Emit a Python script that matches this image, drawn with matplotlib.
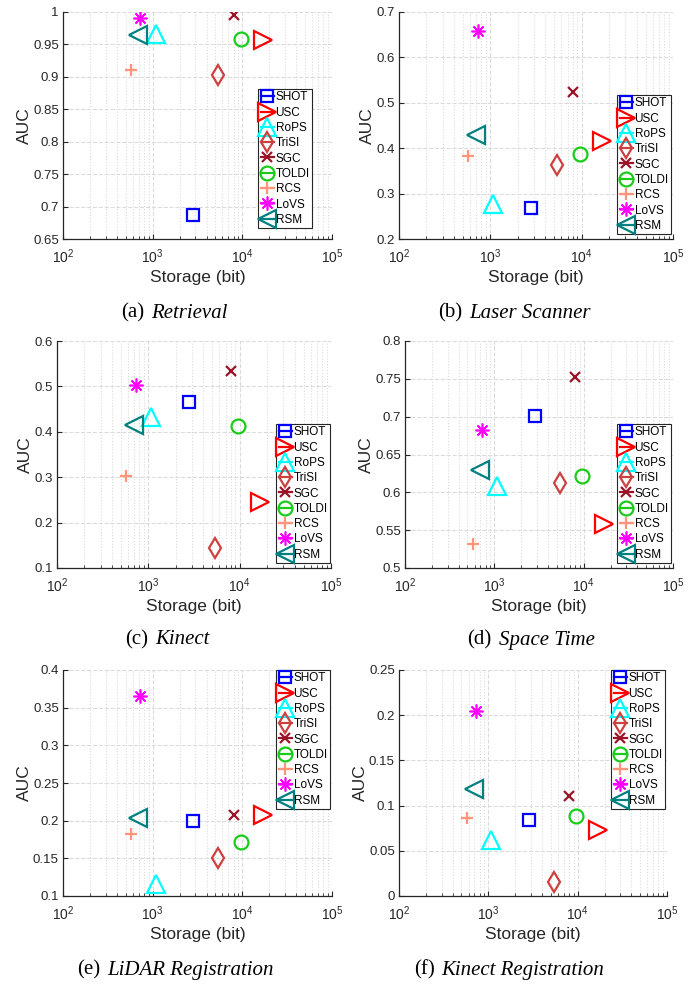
import numpy as np
import matplotlib
matplotlib.use("Agg")
import matplotlib.pyplot as plt
from matplotlib.lines import Line2D
from matplotlib.ticker import FixedLocator, FuncFormatter, LogLocator, NullFormatter

plt.rcParams['font.family'] = ['Liberation Sans', 'DejaVu Sans']
plt.rcParams['mathtext.default'] = 'regular'

# ---- data ----
methods = ['SHOT', 'USC', 'RoPS', 'TriSI', 'SGC', 'TOLDI', 'RCS', 'LoVS', 'RSM']
storage = [2816, 16800, 1080, 5400, 8000, 9600, 576, 729, 690]   # bits

auc_retrieval  = [0.687, 0.957, 0.966, 0.903, 0.995, 0.958, 0.911, 0.990, 0.964]
auc_laser      = [0.268, 0.416, 0.278, 0.363, 0.524, 0.388, 0.383, 0.659, 0.429]
auc_kinect     = [0.465, 0.245, 0.432, 0.145, 0.534, 0.412, 0.302, 0.504, 0.416]
auc_spacetime  = [0.701, 0.558, 0.608, 0.612, 0.752, 0.622, 0.532, 0.682, 0.630]
auc_lidar_reg  = [0.199, 0.208, 0.116, 0.150, 0.208, 0.172, 0.182, 0.366, 0.203]
auc_kinect_reg = [0.084, 0.073, 0.062, 0.016, 0.111, 0.089, 0.086, 0.205, 0.118]

panel_tags  = ['(a)', '(b)', '(c)', '(d)', '(e)', '(f)']
panel_names = ['Retrieval', 'Laser Scanner', 'Kinect', 'Space Time',
               'LiDAR Registration', 'Kinect Registration']
panel_ylims = [(0.65, 1.0), (0.2, 0.7), (0.1, 0.6), (0.5, 0.8), (0.1, 0.4), (0.0, 0.25)]
panel_ystep = [0.05, 0.1, 0.1, 0.05, 0.05, 0.05]

# ---- styles ----
markers = ['s', '>', '^', 'd', 'x', 'o', '+', (8, 2, 0), '<']
colors  = [(0, 0, 1), (1, 0, 0), (0, 1, 1), (0.8, 0.25, 0.25), (0.6, 0.08, 0.15),
           (0.1, 0.8, 0.1), (1, 0.58, 0.48), (1, 0, 1), (0, 0.5, 0.5)]
msizes  = [8, 13, 13, 10.5, 7.5, 10, 9, 10, 13]
mwidths = [1.6, 1.6, 1.6, 1.6, 1.6, 1.6, 1.6, 1.2, 1.6]

W, H = 694, 984
fig = plt.figure(figsize=(W / 100, H / 100), dpi=100)

def fx(px):
    return px / W

def fy(py):
    return 1 - py / H

# axes boxes in pixels: left, right, top, bottom
boxes = [(63, 332, 12, 239), (399, 673, 12, 239),
         (57, 331, 341, 568), (405, 673, 341, 568),
         (63, 332, 670, 896), (399, 667, 670, 896)]
# legend anchor (right, top) in pixels
leg_anchor = [(312, 89), (671, 95), (330, 424), (671, 424), (330, 670), (665, 670)]
# caption centre
cap_pos = [(174, 313), (514, 313), (167, 640), (531, 640), (175, 970), (509, 970)]

all_auc = [auc_retrieval, auc_laser, auc_kinect, auc_spacetime, auc_lidar_reg, auc_kinect_reg]
dark = (0.15, 0.15, 0.15)

for k in range(6):
    l, r, t, b = boxes[k]
    ax = fig.add_axes([fx(l), fy(b), (r - l) / W, (b - t) / H])
    auc = all_auc[k]
    for i, m in enumerate(methods):
        ax.plot(storage[i], auc[i], linestyle='none', marker=markers[i], ms=msizes[i],
                mfc='none', mec=colors[i], mew=mwidths[i], zorder=3)
    ax.set_xscale('log')
    ax.set_xlim(1e2, 1e5)
    y0, y1 = panel_ylims[k]
    ax.set_ylim(y0, y1)
    ticks = np.arange(y0, y1 + 1e-9, panel_ystep[k])
    ax.yaxis.set_major_locator(FixedLocator(ticks))
    ax.yaxis.set_major_formatter(FuncFormatter(lambda v, _: '%g' % round(v, 4)))
    ax.xaxis.set_major_locator(LogLocator(base=10, numticks=10))
    ax.xaxis.set_minor_locator(LogLocator(base=10, subs=np.arange(2, 10), numticks=20))
    ax.xaxis.set_minor_formatter(NullFormatter())

    ax.set_axisbelow(True)
    ax.grid(True, which='major', linestyle='--', color=(0.86, 0.86, 0.86), lw=0.8)
    ax.grid(True, which='minor', axis='x', linestyle=':', color=(0.86, 0.86, 0.86), lw=0.8)
    for s in ['top', 'right']:
        ax.spines[s].set_visible(False)
    for s in ['left', 'bottom']:
        ax.spines[s].set_color(dark)
        ax.spines[s].set_linewidth(0.9)
    ax.tick_params(which='both', direction='in', colors=dark, labelsize=9.5)
    ax.tick_params(which='major', length=3.5)
    ax.tick_params(which='minor', length=2)
    ax.tick_params(axis='x', which='major', pad=6, labelsize=10)
    ax.tick_params(axis='y', which='major', pad=3)
    ax.set_xlabel('Storage (bit)', fontsize=12.5, color=dark, labelpad=3)
    ax.set_ylabel('AUC', fontsize=12.5, color=dark, labelpad=1)

    handles = [Line2D([], [], color=colors[i], marker=markers[i], ms=msizes[i],
                      mfc='none', mew=mwidths[i], lw=1.6) for i in range(len(methods))]
    ax_, ay_ = leg_anchor[k]
    leg = fig.legend(handles, methods, loc='upper right',
                     bbox_to_anchor=(fx(ax_), fy(ay_)), bbox_transform=fig.transFigure,
                     fontsize=8.5, frameon=True, fancybox=False, framealpha=1,
                     edgecolor=dark, borderpad=0.2, labelspacing=0.28,
                     handlelength=1.1, handletextpad=0.15, borderaxespad=0)
    leg.get_frame().set_linewidth(0.8)

# captions: upright tag followed by italic name
renderer = fig.canvas.get_renderer()
for k in range(6):
    cx, cy = cap_pos[k]
    t1 = fig.text(0, fy(cy), panel_tags[k], family='Liberation Serif', size=15, va='center')
    t2 = fig.text(0, fy(cy), panel_names[k], family='Liberation Serif', style='italic',
                  size=15, va='center')
    w1 = t1.get_window_extent(renderer).width
    w2 = t2.get_window_extent(renderer).width
    gap = 7
    x0 = cx - (w1 + gap + w2) / 2
    t1.set_x(fx(x0))
    t2.set_x(fx(x0 + w1 + gap))

fig.savefig('out.png', dpi=100)
